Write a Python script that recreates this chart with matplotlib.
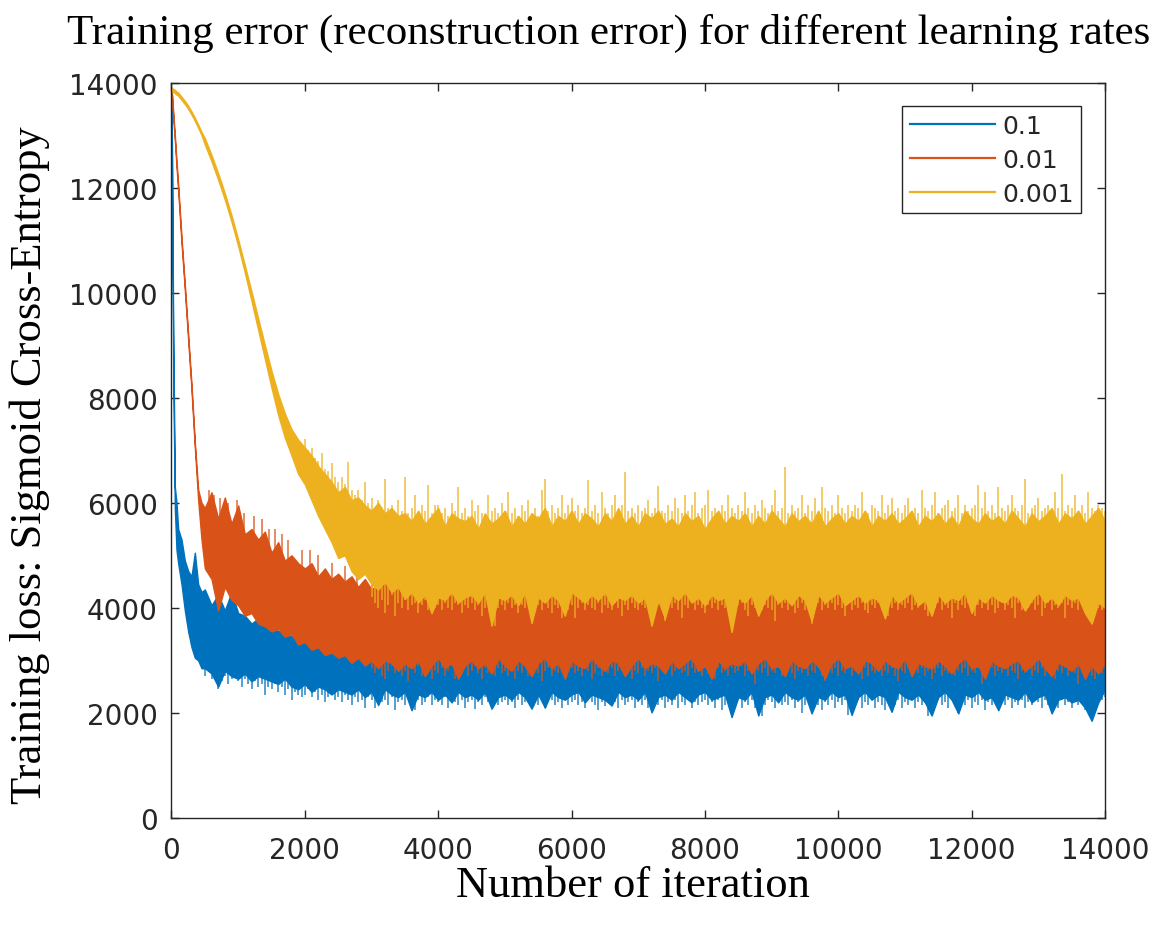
import numpy as np
import matplotlib
matplotlib.use("Agg")
import matplotlib.pyplot as plt
from matplotlib.lines import Line2D

# iteration grid: finer at the start where the losses drop fast
iters = [0, 25, 50, 75, 100, 150, 200, 250, 300, 350, 400, 450] + list(range(500, 14001, 100))

labels = ['0.1', '0.01', '0.001']
colors = ['#0072BD', '#D95319', '#EDB120']

# lr = 0.1, upper / lower edge of the noisy loss
blue_hi = [13900, 9400, 6300, 6000, 5500, 5300, 4900, 4700, 4600, 5050, 4450, 4300,
           4350, 4050, 4250, 3950, 4300, 3900, 3850, 3700, 3800, 3650,
           3700, 3550, 3600, 3450, 3500, 3400, 3450, 3350, 3400, 3300,
           3350, 3300, 3400, 3250, 3300, 3350, 3250, 3300, 3200, 3350,
           3250, 3200, 3300, 3250, 3350, 3200, 3250, 3300, 3200, 3250,
           3200, 3300, 3200, 3250, 3350, 3200, 3250, 3300, 3250, 3200,
           3300, 3250, 3200, 3300, 3250, 3350, 3200, 3250, 3300, 3200,
           3250, 3300, 3200, 3350, 3250, 3200, 3300, 3250, 3200, 3300,
           3200, 3250, 3350, 3200, 3300, 3250, 3200, 3300, 3250, 3200,
           3300, 3200, 3250, 3300, 3200, 3350, 3250, 3200, 3300, 3250,
           3250, 3300, 3200, 3250, 3350, 3200, 3300, 3250, 3200, 3300,
           3200, 3250, 3300, 3200, 3250, 3350, 3200, 3300, 3250, 3200,
           3300, 3250, 3200, 3300, 3250, 3200, 3350, 3250, 3300, 3200,
           3250, 3200, 3300, 3250, 3200, 3300, 3250, 3350, 3200, 3250,
           3200, 3250, 3150, 3200, 3250, 3100]
blue_lo = [13900, 8600, 5900, 5100, 4850, 4450, 3950, 3550, 3250, 3050, 3000, 2850,
           2850, 2750, 2500, 2800, 2700, 2650, 2750, 2600, 2700, 2650,
           2600, 2550, 2650, 2500, 2450, 2550, 2400, 2500, 2450, 2350,
           2450, 2400, 2350, 2450, 2300, 2400, 2150, 2450, 2350, 2300,
           2400, 2050, 2350, 2300, 2400, 2250, 2350, 2200, 2400, 2300,
           2350, 2250, 2400, 2080, 2300, 2350, 2250, 2400, 2300, 2080,
           2350, 2100, 2400, 2300, 2250, 2350, 2400, 2200, 2350, 2300,
           2250, 2140, 2400, 2300, 2350, 2250, 2400, 2010, 2300, 2350,
           2250, 2400, 2300, 2200, 2350, 2400, 2250, 2300, 2350, 1920,
           2300, 2250, 2400, 1950, 2300, 2350, 2200, 2400, 2300, 2250,
           2350, 1990, 2300, 2250, 2400, 2300, 2350, 1960, 2300, 2400,
           2250, 2350, 2300, 2020, 2400, 2300, 2250, 2350, 2200, 1950,
           2300, 2400, 2250, 1990, 2350, 2300, 2400, 2250, 2300, 2050,
           2350, 2300, 2250, 2400, 2200, 2300, 2350, 1990, 2250, 2300,
           2200, 2250, 2100, 1850, 2200, 2450]

# lr = 0.01
red_hi = [13900, 13450, 13000, 12500, 12050, 11050, 10150, 9200, 8250, 7150, 6250, 6000,
          5900, 6200, 5700, 6100, 5600, 5950, 5400, 5500, 5300, 5450,
          5050, 5250, 4900, 5000, 4850, 4750, 4850, 4600, 4750, 4550,
          4650, 4500, 4600, 4400, 4550, 4350, 4450, 4500, 4300, 4400,
          4400, 4300, 4500, 4350, 4450, 4250, 4400, 4500, 4300, 4400,
          4350, 4450, 4300, 4500, 4350, 4250, 4450, 4400, 4300, 4500,
          4400, 4300, 4450, 4350, 4500, 4300, 4400, 4250, 4450, 4350,
          4300, 4450, 4350, 4500, 4250, 4400, 4350, 4450, 4300, 4400,
          4450, 4300, 4400, 4350, 4500, 4300, 4450, 4250, 4400, 4350,
          4300, 4400, 4500, 4350, 4250, 4450, 4300, 4400, 4350, 4500,
          4350, 4450, 4300, 4400, 4500, 4250, 4400, 4350, 4450, 4300,
          4400, 4300, 4450, 4350, 4250, 4500, 4400, 4300, 4450, 4350,
          4300, 4450, 4400, 4250, 4350, 4500, 4300, 4400, 4350, 4450,
          4400, 4300, 4500, 4350, 4450, 4250, 4400, 4350, 4300, 4450,
          4350, 4400, 4300, 4450, 4250, 4400]
red_lo = [13900, 13350, 12900, 12400, 11950, 10950, 10050, 9100, 8150, 7050, 6050, 5300,
          4750, 4550, 3950, 4400, 4150, 4050, 3850, 3900, 3700, 3650,
          3550, 3600, 3450, 3500, 3300, 3350, 3200, 3250, 3100, 3150,
          3050, 3100, 2950, 3050, 2900, 3000, 2850, 3000, 2950, 2800,
          2950, 2850, 3000, 2700, 2900, 3050, 2850, 2950, 2650, 2900,
          3000, 2850, 2950, 2750, 3050, 2900, 2800, 3000, 2900, 2700,
          2950, 3050, 2850, 2950, 2650, 3000, 2900, 2850, 3050, 2900,
          2800, 3000, 2950, 2700, 2900, 3050, 2850, 2950, 2900, 2750,
          3000, 2850, 2950, 3050, 2800, 2900, 2650, 3000, 2850, 2950,
          2900, 3000, 2750, 2950, 3050, 2850, 2900, 2700, 3000, 2900,
          2850, 3000, 2900, 2650, 2950, 3050, 2850, 2900, 2750, 3000,
          2950, 2800, 3000, 2900, 2850, 3050, 2700, 2950, 2900, 2850,
          3000, 2900, 2750, 2950, 3050, 2850, 2900, 2650, 3000, 2900,
          2850, 2950, 3000, 2800, 2900, 3050, 2850, 2700, 2950, 2900,
          2800, 2950, 2650, 2900, 2750, 2950]

# lr = 0.001
yellow_hi = [13900, 13880, 13860, 13830, 13810, 13730, 13650, 13560, 13450, 13330, 13200, 13060,
             12940, 12620, 12270, 11890, 11470, 11010, 10520, 10020, 9510, 9000,
             8510, 8070, 7700, 7400, 7200, 7050, 6900, 6700, 6550, 6400,
             6200, 6300, 6050, 6100, 5950, 5850, 6000, 5800, 5900, 5750,
             5800, 5650, 5850, 5600, 5750, 5900, 5550, 5800, 5700, 5650,
             5750, 5500, 5800, 5600, 5700, 5850, 5550, 5750, 5600, 5800,
             5700, 5900, 5550, 5750, 5650, 5850, 5600, 5800, 5700, 5550,
             5800, 5650, 5900, 5600, 5750, 5550, 5800, 5700, 5850, 5600,
             5700, 5550, 5800, 5650, 5750, 5500, 5700, 5850, 5600, 5750,
             5650, 5800, 5550, 5750, 5600, 5850, 5700, 5550, 5800, 5650,
             5750, 5600, 5850, 5550, 5700, 5800, 5600, 5750, 5650, 5850,
             5550, 5750, 5650, 5800, 5600, 5700, 5850, 5550, 5750, 5650,
             5800, 5600, 5750, 5550, 5850, 5700, 5600, 5800, 5650, 5750,
             5600, 5850, 5700, 5550, 5800, 5650, 5750, 5900, 5600, 5800,
             5700, 5850, 5600, 5750, 5900, 5650]
yellow_lo = [13840, 13820, 13800, 13770, 13750, 13670, 13590, 13500, 13390, 13270, 13140, 13000,
             12820, 12500, 12150, 11770, 11350, 10890, 10380, 9840, 9290, 8740,
             8190, 7670, 7240, 6900, 6550, 6350, 6050, 5750, 5500, 5250,
             4950, 5000, 4700, 4550, 4650, 4450, 4350, 4500, 4300, 4400,
             4170, 4300, 4100, 4250, 3900, 4200, 4150, 4300, 4100, 4200,
             4250, 4100, 4300, 3660, 4200, 4150, 4250, 4050, 4300, 3710,
             4200, 4100, 4250, 4150, 3850, 4300, 4200, 4100, 4250, 4150,
             4300, 4050, 4200, 4150, 4250, 4100, 4200, 3660, 4150, 3800,
             4250, 4150, 4300, 4100, 4200, 4050, 4250, 4150, 4200, 3540,
             4200, 4100, 4250, 3850, 4150, 4300, 4100, 4200, 4050, 4250,
             4150, 3750, 4250, 4100, 4200, 4300, 4050, 4150, 4250, 4100,
             4200, 4150, 3800, 4250, 4100, 4200, 4300, 4050, 4150, 3850,
             4250, 4100, 4200, 4150, 4300, 3900, 4200, 4100, 4250, 4150,
             4100, 4250, 4200, 3950, 4150, 4300, 4100, 4200, 4050, 4250,
             4150, 4200, 3900, 3700, 4100, 4000]

# single samples poking out of the bands, every 50 iterations
blue_tip_it = list(range(500, 14001, 50))
blue_tip = [2700, 2800, 2650, 2750, 2460, 2600, 2700, 2550, 2650, 2700, 2600, 2500, 2650, 2550, 2450, 2600, 2500, 2550, 2350, 2500,
            2450, 2550, 2400, 2500, 2350, 2450, 2250, 2400, 2350, 2300,
            2350, 2450, 2300, 2400, 2250, 2350, 2200, 2300, 2350, 2250, 2300, 2200, 2350, 2250, 2150, 2300, 2200, 2250, 2100, 2300,
            2250, 2100, 2300, 2200, 2250, 2150, 2300, 2050, 2200, 2250, 2150, 2300, 2200, 2050, 2250, 2150, 2200, 2300, 2150, 2250,
            2200, 2150, 2300, 2100, 2250, 2200, 2150, 2250, 2100, 2200, 2250, 2080, 2200, 2150, 2300, 2200, 2080, 2250, 2150, 2200,
            2250, 2150, 2200, 2100, 2250, 2150, 2200, 2250, 2080, 2200, 2150, 2250, 2100, 2200, 2250, 2150, 2200, 2100, 2250, 2150,
            2200, 2250, 2150, 2200, 2100, 2250, 2200, 2150, 2050, 2200, 2140, 2250, 2150, 2200, 2100, 2250, 2150, 2200, 2250, 2100,
            2200, 2150, 2250, 2100, 2010, 2200, 2150, 2250, 2100, 2200, 2150, 2250, 2100, 2200, 2150, 2250, 2100, 2200, 2150, 2200,
            2250, 2150, 2200, 2100, 2250, 2050, 2150, 2200, 1920, 2150, 2250, 2100, 2200, 2150, 2250, 2100, 2200, 1950, 2150, 2250,
            2200, 2100, 2250, 2150, 2200, 2150, 2250, 2100, 2200, 1990, 2150, 2250, 2100, 2200, 2150, 2050, 2200, 2150, 2250, 2100,
            2200, 2150, 2250, 1960, 2200, 2150, 2250, 2100, 2200, 2150, 2250, 2100, 2200, 2150, 2050, 2200, 2020, 2150, 2250, 2100,
            2200, 2150, 2250, 2100, 2200, 2150, 2250, 1950, 2200, 2100, 2250, 2150, 2200, 2100, 2250, 2150, 1990, 2200, 2150, 2250,
            2100, 2200, 2150, 2250, 2050, 2200, 2150, 2250, 2100, 2200, 2150, 2250, 2100, 2200, 2150, 2250, 2100, 2200, 2150, 2250,
            2200, 2100, 2250, 2150, 1990, 2200, 2100, 2250, 2150, 2200, 2100, 2250, 2150, 2200, 2050, 2150, 1850, 2100, 2200, 2250,
            2300]

red_up_it = [560, 630, 720, 850, 980, 1080, 1230, 1350, 1460, 1550, 1650, 1750, 1950, 2080,
             2200, 2400, 2600, 2780, 3000]
red_up_val = [6250, 6150, 6100, 6000, 6050, 5800, 5750, 5700, 5500, 5500, 5400, 5300, 5100, 5100,
              5000, 4850, 4800, 4800, 4700]
red_tip_it = list(range(3000, 14001, 50))
red_tip = [2850, 2750, 2900, 2700, 2650, 2800, 2900, 2750, 2850, 2700, 2800, 2600, 2850, 2750, 2900, 2700, 2800, 2850, 2650, 2800,
           2750, 2850, 2700, 2800, 2900, 2650, 2800, 2750, 2850, 2700, 2800, 2900, 2750, 2650, 2850, 2750, 2800, 2700, 2850, 2750,
           2800, 2700, 2850, 2650, 2800, 2750, 2900, 2700, 2800, 2850, 2750, 2600, 2800, 2850, 2700, 2800, 2750, 2850, 2700, 2800,
           2850, 2750, 2800, 2700, 2900, 2800, 2650, 2750, 2850, 2700, 2800, 2750, 2850, 2700, 2800, 2900, 2750, 2800, 2650, 2800,
           2750, 2850, 2700, 2800, 2750, 2850, 2600, 2800, 2750, 2900, 2700, 2800, 2850, 2750, 2800, 2700, 2850, 2750, 2800, 2700,
           2850, 2750, 2800, 2650, 2850, 2750, 2800, 2700, 2850, 2750, 2800, 2900, 2700, 2800, 2750, 2550, 2800, 2750, 2850, 2700,
           2800, 2750, 2850, 2700, 2800, 2900, 2750, 2650, 2800, 2750, 2850, 2700, 2800, 2750, 2850, 2700, 2600, 2800, 2750, 2850,
           2700, 2800, 2750, 2850, 2700, 2800, 2750, 2650, 2850, 2700, 2800, 2750, 2850, 2700, 2800, 2750, 2850, 2700, 2600, 2800,
           2750, 2850, 2700, 2800, 2750, 2850, 2700, 2800, 2650, 2750, 2850, 2700, 2800, 2750, 2850, 2700, 2800, 2750, 2850, 2700,
           2800, 2750, 2850, 2550, 2800, 2750, 2850, 2700, 2800, 2750, 2850, 2700, 2800, 2750, 2650, 2800, 2750, 2850, 2700, 2800,
           2750, 2850, 2700, 2800, 2750, 2650, 2800, 2750, 2850, 2700, 2800, 2750, 2550, 2800, 2750, 2850, 2700, 2650, 2800, 2750,
           2850]

yellow_top_it = list(range(2000, 14001, 50))
yellow_top = [7220, 7000, 7050, 6850, 6800, 6950, 6650, 6600, 6750, 6500, 6400, 6500, 6350, 6780, 6250, 6150, 6250, 6050, 6400, 6000,
              6100, 5900, 6050, 5850, 6460, 5900, 5950, 5800, 6050, 5850, 6500, 5800, 5900, 6150, 5750, 5950, 5850, 6330, 5800, 5950,
              5950, 5800, 5900, 5750, 6000, 5850, 6300, 5800, 5900, 5750, 6050, 5850, 5950, 5800, 5750, 6150, 5850, 5900, 5800, 6000,
              5850, 6200, 5800, 5900, 5750, 5950, 5850, 6050, 5800, 5900, 5750, 6250, 6460, 5850, 5950, 5800, 5900, 6150, 5800, 5950,
              6100, 5850, 5950, 5800, 5900, 6440, 5850, 5950, 5800, 6200, 5900, 5800, 5950, 6150, 5850, 5950, 6590, 5850, 5900, 5800,
              5950, 5850, 5900, 6050, 5800, 5900, 6320, 5850, 5800, 5950, 5850, 6100, 5900, 5800, 6150, 5850, 5950, 6200, 5800, 5900,
              5950, 6250, 5850, 5900, 5800, 5950, 5850, 6150, 5900, 5800, 5950, 5850, 6200, 5900, 5800, 5950, 5850, 6050, 5900, 5800,
              5950, 6250, 5850, 5900, 6690, 5800, 5950, 5850, 5900, 6150, 5800, 5950, 5850, 6100, 5800, 6300, 5900, 5850, 5950, 5800,
              6150, 5900, 5800, 5950, 5850, 5950, 5900, 6200, 5850, 5800, 5950, 5900, 5850, 6150, 5800, 5950, 6100, 5850, 5900, 5800,
              5950, 6100, 5850, 5900, 5800, 6250, 5900, 5850, 5950, 6200, 5800, 5900, 5950, 6050, 5850, 5900, 6150, 5800, 5950, 5850,
              5900, 5950, 6330, 5900, 6200, 5850, 5950, 5800, 6300, 5900, 5850, 5950, 6150, 5900, 5850, 5950, 6450, 5800, 5900, 5950,
              6100, 5850, 5900, 5950, 5800, 6200, 5900, 6550, 5850, 5950, 5900, 6150, 5850, 5950, 5800, 6200, 5900, 5850, 5950, 5900,
              5850]
yellow_bot_it = list(range(3000, 14001, 50))
yellow_bot = [4200, 4100, 4000, 4150, 3900, 4050, 4250, 3850, 4100, 4000, 4150, 3950, 4050, 4100, 3900, 4050, 4150, 3950, 4100, 4000,
              4050, 3950, 4100, 4000, 3950, 4100, 4050, 3900, 4050, 4000, 4100, 3950, 4050, 3850, 4000, 4100, 3950, 3660, 4000, 4050,
              3950, 4100, 4000, 4050, 3900, 4050, 4000, 4100, 3710, 4000, 4050, 3950, 4100, 4000, 3900, 4050, 4000, 3800, 4100, 3950,
              4050, 3800, 4000, 4100, 3950, 4050, 4000, 3950, 4100, 3900, 4050, 4000, 3950, 4100, 4000, 3850, 4050, 3950, 4100, 4000,
              3950, 4050, 4000, 4100, 3660, 4000, 4050, 3950, 3750, 4050, 4000, 4100, 3950, 3800, 4050, 4000, 4100, 3950, 4050, 4000,
              3900, 4050, 4000, 4100, 3950, 4050, 4000, 3950, 3540, 4000, 4050, 4100, 3950, 3850, 4050, 4000, 4100, 3950, 4050, 4000,
              3950, 3750, 4050, 4000, 4100, 3950, 4050, 3900, 4000, 4100, 3950, 4050, 3700, 4000, 4100, 3950, 4050, 4000, 4100, 3950,
              4050, 4000, 3850, 4100, 3950, 4050, 4000, 4100, 3950, 3900, 4050, 4000, 4100, 3950, 4050, 3850, 4000, 4100, 3950, 4050,
              4000, 4100, 3950, 4050, 4000, 4100, 3950, 3850, 4050, 4000, 4100, 3950, 4050, 4000, 3800, 4100, 3950, 4050, 4000, 4100,
              3950, 3850, 4050, 4000, 4100, 3950, 4050, 3900, 4000, 4100, 3950, 4050, 4000, 3800, 4100, 3950, 4050, 4000, 4100, 3950,
              4050, 3850, 4000, 4100, 3950, 4050, 4000, 4100, 3800, 4050, 4000, 4100, 3950, 4050, 4000, 3900, 3700, 4050, 4000, 3950,
              4000]

serif = 'Liberation Serif'
ink = '#262626'

fig = plt.figure(figsize=(11.58, 9.28), dpi=100)
ax = fig.add_axes([0.1481, 0.1175, 0.8061, 0.7925])

x = np.array(iters)
edges = [(blue_hi, blue_lo), (red_hi, red_lo), (yellow_hi, yellow_lo)]
ups = [[], [(red_up_it, red_up_val)], [(yellow_top_it, yellow_top)]]
downs = [[(blue_tip_it, blue_tip)], [(red_tip_it, red_tip)], [(yellow_bot_it, yellow_bot)]]

# each run: a filled band plus the single samples that stick out of it,
# later runs drawn on top of earlier ones
for k, c in enumerate(colors):
    hi, lo = edges[k]
    z = 2 + k
    ax.fill_between(x, lo, hi, facecolor=c, edgecolor=c, linewidth=1.0, zorder=z)
    for it, val in ups[k]:
        base = np.interp(it, x, hi) - 150
        ax.vlines(it, base, val, color=c, linewidth=1.1, alpha=0.85, zorder=z)
    for it, val in downs[k]:
        base = np.interp(it, x, lo) + 150
        ax.vlines(it, val, base, color=c, linewidth=1.1, alpha=0.85, zorder=z)

ax.set_xlim(0, 14000)
ax.set_ylim(0, 14000)
ax.set_xticks(range(0, 14001, 2000))
ax.set_yticks(range(0, 14001, 2000))
ax.tick_params(direction='in', length=6, width=1.0, top=True, right=True,
               labelsize=20, colors=ink, labelcolor=ink)
ax.tick_params(axis='x', pad=13)
ax.tick_params(axis='y', pad=10)
for s in ax.spines.values():
    s.set_color(ink)
    s.set_linewidth(1.0)
    s.set_zorder(10)

handles = [Line2D([], [], color=c, linewidth=1.6) for c in colors]
leg = ax.legend(handles, labels, loc='upper right', bbox_to_anchor=(1081 / 1158, 1 - 107 / 928),
                bbox_transform=fig.transFigure, borderaxespad=0, fontsize=18,
                handlelength=3.4, handletextpad=0.3, labelspacing=0.4, borderpad=0.3,
                fancybox=False, framealpha=1, edgecolor=ink)
leg.get_frame().set_linewidth(1.0)
leg.set_zorder(11)
for t in leg.get_texts():
    t.set_color(ink)

fig.text(67 / 1158, 1 - 44 / 928, 'Training error (reconstruction error) for different learning rates',
         family=serif, fontsize=31, ha='left', va='baseline')
fig.text(30 / 1158, 1 - 465 / 928, 'Training loss: Sigmoid Cross-Entropy',
         family=serif, fontsize=32, rotation=90, ha='center', va='center')
fig.text(633 / 1158, 1 - 897 / 928, 'Number of iteration',
         family=serif, fontsize=32, ha='center', va='baseline')

fig.savefig('out.png', dpi=100)
